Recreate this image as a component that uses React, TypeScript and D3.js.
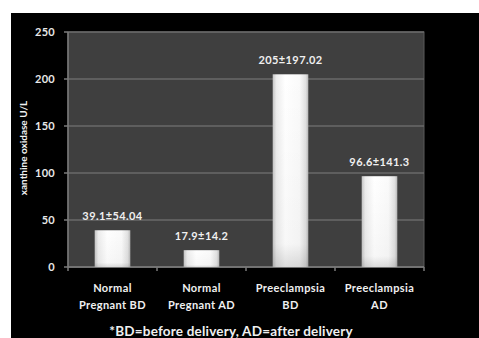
import React from "react";
import * as d3 from "d3";

const categories: string[][] = [
  ["Normal", "Pregnant BD"],
  ["Normal", "Pregnant AD"],
  ["Preeclampsia", "BD"],
  ["Preeclampsia", "AD"],
];
const means: number[] = [39.1, 17.9, 205, 96.6];
const sds: string[] = ["54.04", "14.2", "197.02", "141.3"];
const yTicks: number[] = [0, 50, 100, 150, 200, 250];
const yTitle = "xanthine oxidase U/L";
const footnote = "*BD=before delivery, AD=after delivery";

const W = 479;
const H = 338;
const plot = { left: 68, right: 424, top: 32, bottom: 267 };
const FONT = "Lato, 'Open Sans', sans-serif";

export default function App() {
  const x = d3
    .scaleBand<number>()
    .domain(means.map((_, i) => i))
    .range([plot.left, plot.right])
    .paddingInner(0.6)
    .paddingOuter(0.3);
  const band = d3
    .scaleBand<number>()
    .domain(means.map((_, i) => i))
    .range([plot.left, plot.right]);
  const y = d3.scaleLinear().domain([0, 250]).range([plot.bottom, plot.top]);

  return (
    <svg
      width={W}
      height={H}
      style={{ position: "absolute", left: 0, top: 0, display: "block" }}
    >
      <defs>
        <linearGradient id="barGrad" x1="0" x2="1" y1="0" y2="0">
          <stop offset="0%" stopColor="#c4c4c4" />
          <stop offset="10%" stopColor="#ececec" />
          <stop offset="35%" stopColor="#ffffff" />
          <stop offset="75%" stopColor="#fafafa" />
          <stop offset="93%" stopColor="#e0e0e0" />
          <stop offset="100%" stopColor="#b8b8b8" />
        </linearGradient>
        <linearGradient id="barShade" x1="0" x2="0" y1="0" y2="1">
          <stop offset="0%" stopColor="#000" stopOpacity={0} />
          <stop offset="88%" stopColor="#000" stopOpacity={0.03} />
          <stop offset="100%" stopColor="#000" stopOpacity={0.14} />
        </linearGradient>
      </defs>
      <rect x={0} y={0} width={W} height={H} fill="#ffffff" />
      <rect x={11} y={13} width={W - 11} height={H - 13} fill="#000000" />

      {/* plot area */}
      <rect
        x={plot.left}
        y={plot.top}
        width={plot.right - plot.left}
        height={plot.bottom - plot.top}
        fill="#3f3f3f"
        stroke="#5a5a5a"
        strokeWidth={1}
      />

      {/* gridlines and y ticks */}
      {yTicks.map((t) => (
        <g key={t}>
          <line
            x1={plot.left}
            x2={plot.right}
            y1={y(t)}
            y2={y(t)}
            stroke="#6a6a6a"
            strokeWidth={1.5}
          />
          <line
            x1={plot.left - 4}
            x2={plot.left}
            y1={y(t)}
            y2={y(t)}
            stroke="#7a7a7a"
            strokeWidth={1.5}
          />
          <text
            x={55}
            y={y(t)}
            dy="0.35em"
            textAnchor="end"
            fill="#e8e8e8"
            fontFamily={FONT}
            fontWeight={700}
            fontSize={11}
            letterSpacing={0.3}
          >
            {t}
          </text>
        </g>
      ))}

      {/* axes */}
      <line
        x1={plot.left}
        x2={plot.left}
        y1={plot.top}
        y2={plot.bottom}
        stroke="#7a7a7a"
        strokeWidth={1.5}
      />
      <line
        x1={plot.left}
        x2={plot.right}
        y1={plot.bottom}
        y2={plot.bottom}
        stroke="#7a7a7a"
        strokeWidth={1.5}
      />
      {[...means.map((_, i) => band(i) as number), plot.right].map((bx, i) => (
        <line
          key={i}
          x1={bx}
          x2={bx}
          y1={plot.bottom}
          y2={plot.bottom + 4}
          stroke="#7a7a7a"
          strokeWidth={1.5}
        />
      ))}

      {/* bars */}
      {means.map((v, i) => (
        <g key={i}>
          <rect
            x={x(i)}
            y={y(v)}
            width={x.bandwidth()}
            height={plot.bottom - y(v)}
            fill="url(#barGrad)"
          />
          <rect
            x={x(i)}
            y={y(v)}
            width={x.bandwidth()}
            height={plot.bottom - y(v)}
            fill="url(#barShade)"
          />
          <text
            x={(x(i) as number) + x.bandwidth() / 2}
            y={y(v) - 10}
            textAnchor="middle"
            fill="#f0f0f0"
            fontFamily={FONT}
            fontWeight={700}
            fontSize={11}
            letterSpacing={0.4}
          >
            {`${v}±${sds[i]}`}
          </text>
        </g>
      ))}

      {/* category labels */}
      {categories.map((lines, i) => (
        <text
          key={i}
          x={(band(i) as number) + band.bandwidth() / 2}
          y={292}
          textAnchor="middle"
          fill="#f0f0f0"
          fontFamily={FONT}
          fontWeight={700}
          fontSize={11}
          letterSpacing={0.4}
        >
          {lines.map((l, j) => (
            <tspan key={j} x={(band(i) as number) + band.bandwidth() / 2} dy={j === 0 ? 0 : 17}>
              {l}
            </tspan>
          ))}
        </text>
      ))}

      {/* y-axis title */}
      <text
        transform={`translate(27, 148) rotate(-90)`}
        textAnchor="middle"
        fill="#f0f0f0"
        fontFamily={FONT}
        fontWeight={700}
        fontSize={10}
      >
        {yTitle}
      </text>

      {/* footnote */}
      <text
        x={231}
        y={336}
        textAnchor="middle"
        fill="#f0f0f0"
        fontFamily={FONT}
        fontWeight={700}
        fontSize={13.5}
        letterSpacing={0.2}
      >
        {footnote}
      </text>
    </svg>
  );
}
